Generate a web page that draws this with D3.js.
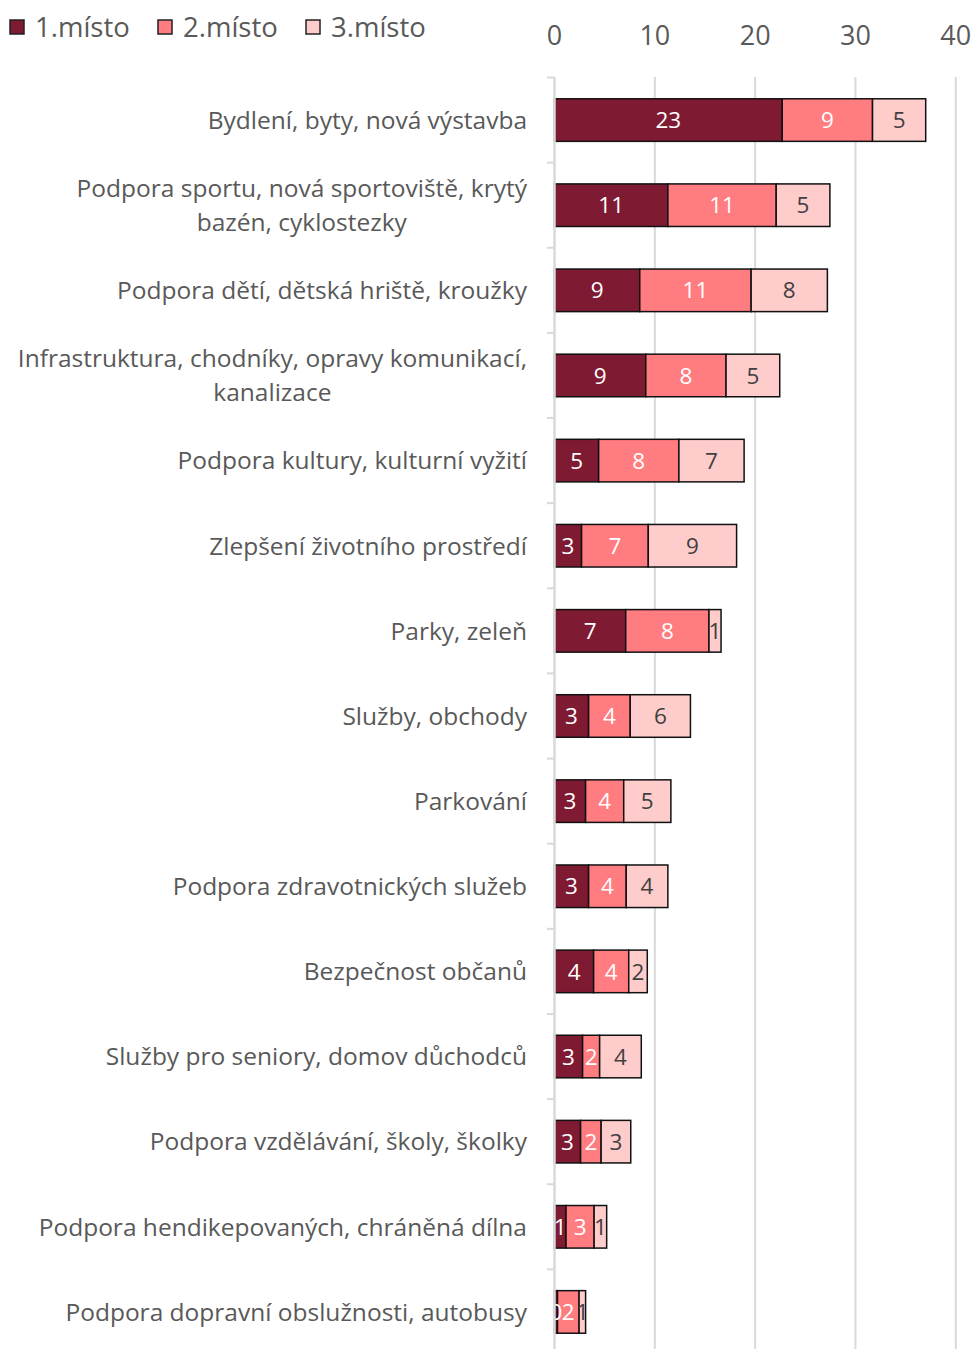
<!DOCTYPE html>
<html><head><meta charset="utf-8">
<script src="https://cdn.jsdelivr.net/npm/d3@7"></script>
<style>body{margin:0;background:#fff}svg{display:block}</style>
</head><body><svg id="c" width="974" height="1349"></svg>
<script>
const categories = [
 "Bydlení, byty, nová výstavba",
 "Podpora sportu, nová sportoviště, krytý\nbazén, cyklostezky",
 "Podpora dětí, dětská hriště, kroužky",
 "Infrastruktura, chodníky, opravy komunikací,\nkanalizace",
 "Podpora kultury, kulturní vyžití",
 "Zlepšení životního prostředí",
 "Parky, zeleň",
 "Služby, obchody",
 "Parkování",
 "Podpora zdravotnických služeb",
 "Bezpečnost občanů",
 "Služby pro seniory, domov důchodců",
 "Podpora vzdělávání, školy, školky",
 "Podpora hendikepovaných, chráněná dílna",
 "Podpora dopravní obslužnosti, autobusy"
];
const seriesNames = ["1.místo","2.místo","3.místo"];
const misto1 = [22.7,11.3,8.5,9.1,4.4,2.7,7.1,3.4,3.1,3.4,3.9,2.8,2.6,1.15,0.3];
const misto2 = [9.0,10.8,11.1,8.0,8.0,6.65,8.3,4.15,3.8,3.75,3.5,1.7,2.05,2.8,2.15];
const misto3 = [5.3,5.35,7.6,5.35,6.5,8.8,1.2,6.0,4.7,4.15,1.85,4.15,2.95,1.25,0.65];
const labels1 = ["23","11","9","9","5","3","7","3","3","3","4","3","3","1","0"];
const labels2 = ["9","11","11","8","8","7","8","4","4","4","4","2","2","3","2"];
const labels3 = ["5","5","8","5","7","9","1","6","5","4","2","4","3","1","1"];
const xTicks = [0,10,20,30,40];

const colors = ["#7f1a33","#ff7c80","#ffcccc"];
const labelColors = ["#ffffff","#ffffff","#404040"];
const font = "'Open Sans', sans-serif";

const svg = d3.select("#c");
const x = d3.scaleLinear().domain([0,40]).range([554.5, 955.8]);
const y = d3.scaleBand().domain(categories).range([77.5, 1354.5]).paddingInner(0.5).paddingOuter(0.25);

// gridlines
svg.append("g").selectAll("line").data(xTicks.slice(1)).join("line")
  .attr("x1", d=>x(d)).attr("x2", d=>x(d)).attr("y1", 77).attr("y2", 1349)
  .attr("stroke", "#d9d9d9").attr("stroke-width", 2);

// top axis labels
svg.append("g").selectAll("text").data(xTicks).join("text")
  .attr("x", d=>x(d)).attr("y", 35).attr("dy","0.36em").attr("text-anchor","middle")
  .attr("font-family", font).attr("font-size", 27).attr("fill","#595959")
  .text(d=>d);

// stacked data
const rows = categories.map((c,i)=>({cat:c, vals:[misto1[i],misto2[i],misto3[i]], labs:[labels1[i],labels2[i],labels3[i]]}));
const segs = [];
rows.forEach(r=>{
  let acc=0;
  r.vals.forEach((v,k)=>{ segs.push({cat:r.cat, k, x0:acc, x1:acc+v, lab:r.labs[k]}); acc+=v; });
});

svg.append("g").selectAll("rect").data(segs).join("rect")
  .attr("x", d=>x(d.x0)).attr("width", d=>x(d.x1)-x(d.x0))
  .attr("y", d=>y(d.cat)).attr("height", y.bandwidth())
  .attr("fill", d=>colors[d.k]).attr("stroke","#111").attr("stroke-width",1.5);

svg.append("g").selectAll("text").data(segs).join("text")
  .attr("x", d=>(x(d.x0)+x(d.x1))/2).attr("y", d=>y(d.cat)+y.bandwidth()/2)
  .attr("dy","0.36em").attr("text-anchor","middle")
  .attr("font-family", font).attr("font-size", 22.5).attr("fill", d=>labelColors[d.k])
  .text(d=>d.lab);

// category axis line and ticks (drawn over bar edges)
svg.append("line").attr("x1",554.5).attr("x2",554.5).attr("y1",77).attr("y2",1349)
  .attr("stroke","#d9d9d9").attr("stroke-width",2.5);
const step = y.step();
const bounds = d3.range(categories.length+1).map(i => y(categories[0]) - step*0.25 + i*step);
svg.append("g").selectAll("line").data(bounds).join("line")
  .attr("x1",547).attr("x2",554.5).attr("y1",d=>d).attr("y2",d=>d)
  .attr("stroke","#d9d9d9").attr("stroke-width",2);

// category labels
const cl = svg.append("g").selectAll("text").data(categories).join("text")
  .attr("font-family", font).attr("font-size", 24.5).attr("fill","#595959")
  .attr("text-anchor","end");
cl.each(function(c){
  const lines = c.split("\n");
  const t = d3.select(this);
  const cy = y(c)+y.bandwidth()/2;
  const lh = 34;
  lines.forEach((ln,j)=>{
    t.append("tspan").attr("x", 527)
      .attr("y", cy + (j-(lines.length-1)/2)*lh).attr("dy","0.36em")
      .text(ln);
  });
});
cl.each(function(c){
  const lines = c.split("\n");
  if(lines.length<2) return;
  const spans = d3.select(this).selectAll("tspan").nodes();
  const first = spans[0].getComputedTextLength();
  const center = 527 - first/2;
  for(let j=1;j<spans.length;j++){
    d3.select(spans[j]).attr("x", center).attr("text-anchor","middle");
  }
});

// legend
const lg = svg.append("g");
const lx = [10,158,306];
seriesNames.forEach((n,k)=>{
  lg.append("rect").attr("x",lx[k]).attr("y",20).attr("width",14).attr("height",14)
    .attr("fill",colors[k]).attr("stroke","#222").attr("stroke-width",1.5);
  lg.append("text").attr("x",lx[k]+25).attr("y",27).attr("dy","0.36em")
    .attr("font-family",font).attr("font-size",27.5).attr("fill","#595959").text(n);
});
</script></body></html>
